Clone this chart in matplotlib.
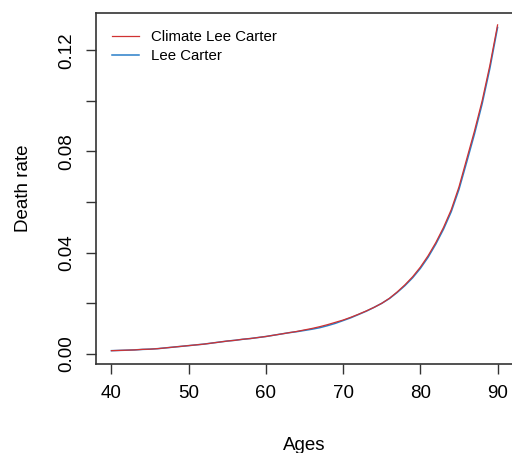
import numpy as np
import matplotlib
matplotlib.use("Agg")
import matplotlib.pyplot as plt

# =========================================================
# DATA
# =========================================================

ages = np.arange(40, 91)

climate_lc = [
    0.0013, 0.0014, 0.0015, 0.0016, 0.0018, 0.0019, 0.0021, 0.0024,
    0.0027, 0.0030, 0.0033, 0.0036, 0.0039, 0.0043, 0.0047, 0.0051,
    0.0054, 0.0058, 0.0061, 0.0065, 0.0069, 0.0074, 0.0079, 0.0084,
    0.0089, 0.0095, 0.0101, 0.0108, 0.0116, 0.0125, 0.0134, 0.0145,
    0.0157, 0.0170, 0.0184, 0.0200, 0.0220, 0.0245, 0.0273, 0.0305,
    0.0343, 0.0388, 0.0440, 0.0500, 0.0570, 0.0660, 0.0770, 0.0880,
    0.1000, 0.1140, 0.1300,
]

lee_carter = [
    0.0013, 0.0014, 0.0015, 0.0016, 0.0018, 0.0019, 0.0021, 0.0024,
    0.0027, 0.0030, 0.0033, 0.0036, 0.0039, 0.0043, 0.0047, 0.0051,
    0.0054, 0.0058, 0.0061, 0.0065, 0.0069, 0.0074, 0.0079, 0.0084,
    0.0088, 0.0093, 0.0098, 0.0104, 0.0112, 0.0121, 0.0132, 0.0143,
    0.0156, 0.0169, 0.0184, 0.0200, 0.0219, 0.0243, 0.0270, 0.0301,
    0.0338, 0.0382, 0.0434, 0.0493, 0.0562, 0.0650, 0.0758, 0.0868,
    0.0988, 0.1128, 0.1290,
]

x_ticks = [40, 50, 60, 70, 80, 90]
y_ticks = [0.00, 0.02, 0.04, 0.06, 0.08, 0.10, 0.12]
y_labels = ["0.00", "", "0.04", "", "0.08", "", "0.12"]

RED = "#D03232"
BLUE = "#2A7FC9"

plt.rcParams["font.family"] = ["Liberation Sans", "DejaVu Sans"]

# =========================================================
# PLOT
# =========================================================

fig = plt.figure(figsize=(5.12, 4.53), dpi=100)
ax = fig.add_axes([0.1875, 0.1965, 0.8145, 0.7748])

ax.plot(ages, lee_carter, color=BLUE, linewidth=1.1, label="Lee Carter")
ax.plot(ages, climate_lc, color=RED, linewidth=0.9,
        label="Climate Lee Carter")

ax.set_xlim(38, 92)
ax.set_ylim(-0.00396, 0.1347)

ax.set_xticks(x_ticks)
ax.set_yticks(y_ticks)
ax.set_yticklabels(y_labels, rotation=90, va="center")

ax.tick_params(axis="both", labelsize=13.5, length=7, width=1,
               color="#333333", pad=8)

for side in ax.spines.values():
    side.set_color("#333333")
    side.set_linewidth(1.2)

ax.set_xlabel("Ages", fontsize=13.5, labelpad=25)
ax.set_ylabel("Death rate", fontsize=13.5, labelpad=19)

handles, labels = ax.get_legend_handles_labels()
ax.legend(
    handles[::-1], labels[::-1],
    loc="upper left",
    frameon=False,
    fontsize=10.8,
    handlelength=1.8,
    handletextpad=0.85,
    labelspacing=0.32,
    bbox_to_anchor=(0.005, 0.99),
)

plt.savefig("out.png", dpi=100)
